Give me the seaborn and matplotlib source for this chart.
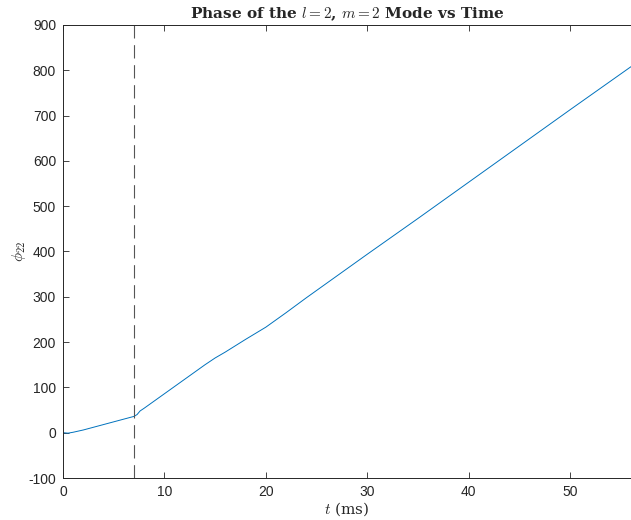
import matplotlib
matplotlib.use("Agg")
import matplotlib.pyplot as plt
import seaborn as sns
import pandas as pd

t_ms = [0.0, 0.5, 1.0, 2.0, 3.0, 4.0, 5.0, 6.0, 7.0, 7.3, 7.6, 8.0, 9.0, 10.0,
        12.0, 14.0, 15.0, 16.0, 18.0, 20.0, 22.0, 24.0, 26.0, 28.0, 30.0,
        35.0, 40.0, 45.0, 50.0, 56.0]
phi22 = [0, -1, 1, 6, 12, 18, 24, 30, 36, 40, 48, 54, 70, 86,
         118, 150, 165, 178, 206, 233, 265, 298, 330, 362, 394,
         473, 553, 633, 713, 808]
t_marker = 7.0
x_ticks = [0, 10, 20, 30, 40, 50]
y_ticks = [-100, 0, 100, 200, 300, 400, 500, 600, 700, 800, 900]

sns.set_theme(style="white")
plt.rcParams['font.family'] = ['Liberation Sans', 'DejaVu Sans']
plt.rcParams['mathtext.fontset'] = 'cm'

df = pd.DataFrame({"t": t_ms, "phi": phi22})

fig = plt.figure(figsize=(6.31, 5.20), dpi=100)
ax = fig.add_axes([63/631, 42/520, 1 - 63/631, (478-25)/520])

sns.lineplot(data=df, x="t", y="phi", ax=ax, color="#0072BD", linewidth=0.7)
ax.axvline(t_marker, color="#555555", linestyle=(0, (12, 6)), linewidth=0.8)

ax.set_xlim(0, 56)
ax.set_ylim(-100, 900)
ax.set_xticks(x_ticks)
ax.set_yticks(y_ticks)
ax.set_xticklabels([str(v) for v in x_ticks], fontsize=10, color="#262626")
ax.set_yticklabels([str(v) for v in y_ticks], fontsize=10, color="#262626")
ax.tick_params(axis="both", direction="in", length=4, width=0.6, color="#262626",
               top=True, bottom=True, left=True, right=False, pad=5)

for s in ["left", "bottom", "top"]:
    ax.spines[s].set_color("#262626")
    ax.spines[s].set_linewidth(0.7)
    ax.spines[s].set_visible(True)
ax.spines["right"].set_visible(False)

ax.set_xlabel(r"$t$ (ms)", fontsize=11, family="serif", labelpad=1)
ax.set_ylabel(r"$\phi_{22}$", fontsize=11, family="serif")
ax.yaxis.set_label_coords(-0.062, 0.5)
ax.set_title(r"Phase of the $l = 2$, $m = 2$ Mode vs Time", fontsize=11,
             family="DejaVu Serif", fontweight="bold", pad=5)

fig.savefig("out.png", dpi=100)
